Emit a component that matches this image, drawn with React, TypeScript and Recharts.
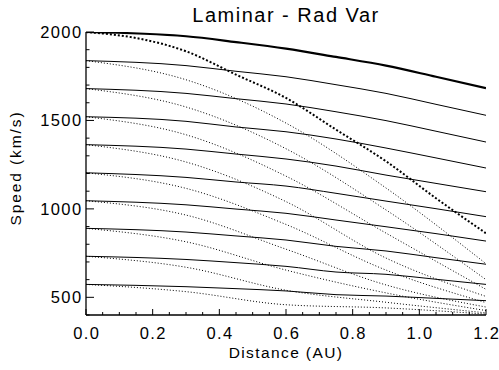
import React from 'react';
import { LineChart, Line, XAxis, YAxis } from 'recharts';

const solidDistance = [0, 0.3, 0.45, 0.6, 0.75, 0.9, 1.05, 1.2];
const solid1 = [2000, 1976, 1943, 1906, 1859, 1810, 1747, 1683];
const solid2 = [1838, 1810, 1778, 1747, 1702, 1653, 1591, 1529];
const solid3 = [1680, 1653, 1623, 1593, 1549, 1499, 1439, 1378];
const solid4 = [1521, 1495, 1463, 1436, 1395, 1344, 1288, 1231];
const solid5 = [1363, 1338, 1310, 1282, 1242, 1191, 1144, 1097];
const solid6 = [1204, 1178, 1152, 1129, 1088, 1044, 1001, 956];
const solid7 = [1046, 1023, 999, 975, 937, 899, 860, 818];
const solid8 = [890, 869, 847, 824, 788, 762, 724, 687];
const solid9 = [732, 714, 696, 675, 643, 630, 602, 573];
const solid10 = [573, 560, 549, 536, 515, 507, 494, 481];

// dotted (rad var) curves
const dottedFastDistance = [0, 0.15, 0.3, 0.45, 0.6, 0.75, 0.9, 1.05, 1.2];
const dotted1 = [2000, 1966, 1891, 1759, 1627, 1448, 1269, 1060, 862];
const dottedDistance = [0, 0.3, 0.6, 0.9, 1.2];
const dotted2 = [1838, 1730, 1485, 1118, 690];
const dotted3 = [1680, 1576, 1340, 994, 600];
const dotted4 = [1521, 1419, 1185, 863, 545];
const dotted5 = [1363, 1265, 1041, 722, 505];
const dotted6 = [1204, 1116, 912, 654, 470];
const dotted7 = [1046, 965, 772, 570, 445];
const dotted8 = [890, 814, 654, 525, 425];
const dotted9 = [732, 670, 540, 472, 412];
const dotted10 = [573, 532, 458, 440, 405];

const xMajor = [0, 0.2, 0.4, 0.6, 0.8, 1.0, 1.2];
const yMajor = [500, 1000, 1500, 2000];
const xTicks = Array.from({ length: 25 }, (_, i) => Math.round(i * 5) / 100);
const yTicks = Array.from({ length: 17 }, (_, i) => 400 + i * 100);

const FONT = '"Liberation Sans", Arial, Helvetica, sans-serif';

const toPoints = (xs: number[], vs: number[]) => xs.map((x, i) => ({ x, v: vs[i] }));

const thinSolid = [solid2, solid3, solid4, solid5, solid6, solid7, solid8, solid9, solid10];
const thinDotted = [dotted2, dotted3, dotted4, dotted5, dotted6, dotted7, dotted8, dotted9, dotted10];

const isMajorX = (v: number) => xMajor.some((m) => Math.abs(m - v) < 1e-6);
const isMajorY = (v: number) => yMajor.includes(v);

const XTick = ({ x, y, payload, side }: any) => {
  const major = isMajorX(payload.value);
  const len = major ? 6 : 3;
  const dir = side === 'bottom' ? -1 : 1;
  return (
    <g>
      <line x1={x} x2={x} y1={y} y2={y + dir * len} stroke="#000" strokeWidth={1} />
      {side === 'bottom' && major && (
        <text x={x + 0.7} y={y + 23.5} textAnchor="middle" fontSize={16.5} fontFamily={FONT} letterSpacing={1.4} fill="#000">
          {payload.value.toFixed(1)}
        </text>
      )}
    </g>
  );
};

const YTick = ({ x, y, payload, side }: any) => {
  const major = isMajorY(payload.value);
  const len = major ? 8 : 3.5;
  const dir = side === 'left' ? 1 : -1;
  return (
    <g>
      <line x1={x} x2={x + dir * len} y1={y} y2={y} stroke="#000" strokeWidth={1} />
      {side === 'left' && major && (
        <text x={x - 3.5} y={y + 6} textAnchor="end" fontSize={16.5} fontFamily={FONT} letterSpacing={1.4} fill="#000">
          {payload.value}
        </text>
      )}
    </g>
  );
};

export default function App() {
  return (
    <div style={{ position: 'absolute', left: 0, top: 0, width: 499, height: 370, background: '#fff' }}>
      <LineChart width={499} height={370} margin={{ top: 32, right: 13, bottom: 0, left: 0 }}>
        <XAxis
          xAxisId="bottom"
          dataKey="x"
          type="number"
          domain={[0, 1.2]}
          ticks={xTicks}
          interval={0}
          allowDataOverflow
          height={55}
          tickSize={0}
          tickMargin={0}
          tickLine={false}
          axisLine={{ stroke: '#000', strokeWidth: 1.3 }}
          tick={(p: any) => <XTick {...p} side="bottom" />}
        />
        <XAxis
          xAxisId="top"
          orientation="top"
          dataKey="x"
          type="number"
          domain={[0, 1.2]}
          ticks={xTicks}
          interval={0}
          allowDataOverflow
          height={0}
          tickSize={0}
          tickMargin={0}
          tickLine={false}
          axisLine={{ stroke: '#000', strokeWidth: 1.3 }}
          tick={(p: any) => <XTick {...p} side="top" />}
        />
        <YAxis
          yAxisId="left"
          type="number"
          domain={[400, 2000]}
          ticks={yTicks}
          interval={0}
          allowDataOverflow
          width={86}
          tickSize={0}
          tickMargin={0}
          tickLine={false}
          axisLine={{ stroke: '#000', strokeWidth: 1.3 }}
          tick={(p: any) => <YTick {...p} side="left" />}
        />
        <YAxis
          yAxisId="right"
          orientation="right"
          type="number"
          domain={[400, 2000]}
          ticks={yTicks}
          interval={0}
          allowDataOverflow
          width={0}
          tickSize={0}
          tickMargin={0}
          tickLine={false}
          axisLine={{ stroke: '#000', strokeWidth: 1.3 }}
          tick={(p: any) => <YTick {...p} side="right" />}
        />
        {thinDotted.map((vs, i) => (
          <Line
            key={`d${i}`}
            xAxisId="bottom"
            yAxisId="left"
            data={toPoints(dottedDistance, vs)}
            dataKey="v"
            type="monotone"
            stroke="#000"
            strokeWidth={1}
            strokeDasharray="1 2"
            dot={false}
            isAnimationActive={false}
          />
        ))}
        <Line
          xAxisId="bottom"
          yAxisId="left"
          data={toPoints(dottedFastDistance, dotted1)}
          dataKey="v"
          type="monotone"
          stroke="#000"
          strokeWidth={2}
          strokeDasharray="2 2"
          dot={false}
          isAnimationActive={false}
        />
        {thinSolid.map((vs, i) => (
          <Line
            key={`s${i}`}
            xAxisId="bottom"
            yAxisId="left"
            data={toPoints(solidDistance, vs)}
            dataKey="v"
            type="monotone"
            stroke="#000"
            strokeWidth={1}
            dot={false}
            isAnimationActive={false}
          />
        ))}
        <Line
          xAxisId="bottom"
          yAxisId="left"
          data={toPoints(solidDistance, solid1)}
          dataKey="v"
          type="monotone"
          stroke="#000"
          strokeWidth={2.2}
          dot={false}
          isAnimationActive={false}
        />
      </LineChart>
      <svg width={499} height={370} style={{ position: 'absolute', left: 0, top: 0, pointerEvents: 'none' }}>
        <text x={286} y={21.5} textAnchor="middle" fontSize={20} fontFamily={FONT} letterSpacing={1.5} fill="#000">
          Laminar - Rad Var
        </text>
        <text x={286} y={358} textAnchor="middle" fontSize={15.5} fontFamily={FONT} letterSpacing={1.4} fill="#000">
          Distance (AU)
        </text>
        <text
          transform="translate(20.5,168) rotate(-90)"
          textAnchor="middle"
          fontSize={15.5}
          fontFamily={FONT}
          letterSpacing={1.9}
          fill="#000"
        >
          Speed (km/s)
        </text>
      </svg>
    </div>
  );
}
